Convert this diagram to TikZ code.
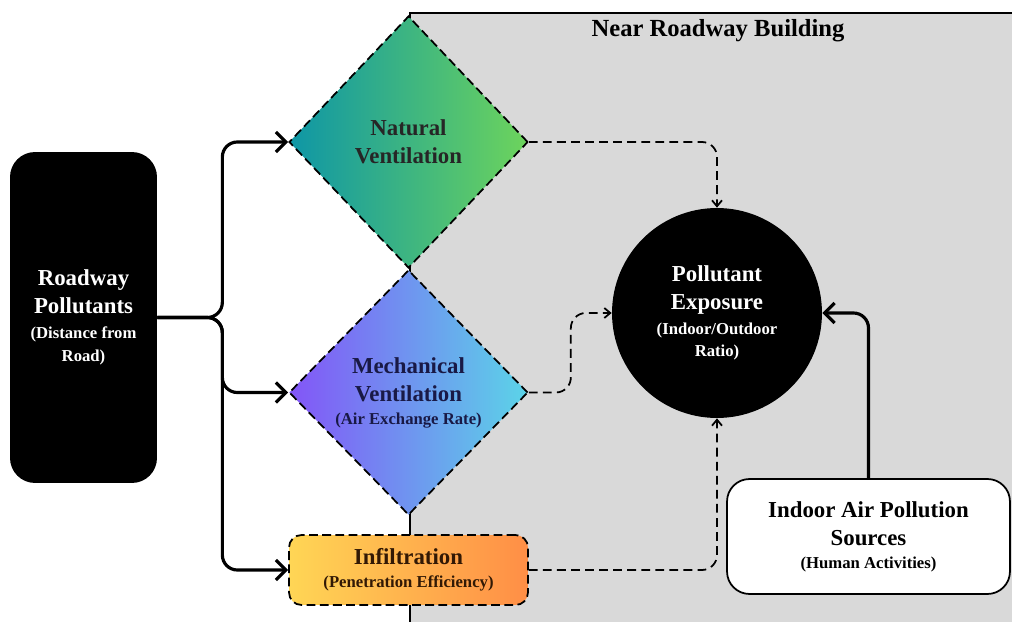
\documentclass[tikz,border=0pt]{standalone}
\usepackage{fontspec}
\setmainfont{Liberation Serif}
\usetikzlibrary{arrows.meta,positioning,shapes.geometric}

\definecolor{bldggray}{HTML}{D9D9D9}
\definecolor{natL}{HTML}{0E96A6}
\definecolor{natR}{HTML}{6DD45C}
\definecolor{mechL}{HTML}{8355F7}
\definecolor{mechR}{HTML}{5BD4E8}
\definecolor{infL}{HTML}{FFD655}
\definecolor{infR}{HTML}{FF8E46}

% smaller second lines inside the boxes
\newcommand{\subline}[1]{{\fontsize{9.5}{12}\selectfont #1}}

\begin{document}
\begin{tikzpicture}[x=0.02cm,y=-0.02cm,
      txt/.style={font=\fontsize{13}{16}\selectfont\bfseries,align=center},
      gate/.style={txt,diamond,draw,line width=1pt,
                   dash pattern=on 5pt off 2.5pt,inner sep=0pt,
                   minimum width=4.78cm},
      feed/.style={-{Straight Barb[length=2mm,width=4mm]},line width=1.8pt,
                   rounded corners=0.3cm},
      leak/.style={-{Straight Barb[length=1.2mm,width=2mm]},line width=1pt,
                   dash pattern=on 5pt off 3pt,rounded corners=0.3cm}]
    \useasboundingbox (0,0) rectangle (1012,622);

    % building outline
    \fill[bldggray] (410,13) rectangle (1012,622);
    \draw[line width=0.8pt] (410,622) -- (410,13) -- (1012,13);
    \node[font=\fontsize{14}{17}\selectfont\bfseries] (title) at (718,31)
      {Near Roadway Building};

    \node[txt,fill=black,text=white,rounded corners=0.5cm,inner sep=0pt,
          minimum width=2.94cm,minimum height=6.62cm] (road) at (83.5,317.5)
      {Roadway\\Pollutants\\[-2pt]\subline{(Distance from}\\[-3pt]\subline{Road)}};

    \node[gate,left color=natL,right color=natR,text=black!85,
          minimum height=5.04cm] (nat) at (408.5,142)
      {Natural\\Ventilation};
    \node[gate,left color=mechL,right color=mechR,text={rgb,255:red,25;green,25;blue,70},
          minimum height=4.9cm] (mech) at (408.5,392.5)
      {Mechanical\\Ventilation\\[-3pt]\subline{(Air Exchange Rate)}};
    \node[txt,draw,line width=1pt,dash pattern=on 5pt off 2.5pt,
          rounded corners=0.25cm,inner sep=0pt,left color=infL,right color=infR,
          text={rgb,255:red,50;green,25;blue,5},
          minimum width=4.78cm,minimum height=1.4cm] (infil) at (408.5,570)
      {Infiltration\\[-3pt]\subline{(Penetration Efficiency)}};

    \node[txt,circle,fill=black,text=white,minimum size=4.2cm,inner sep=0pt]
      (expo) at (717,313)
      {Pollutant\\Exposure\\[-2pt]\subline{(Indoor/Outdoor}\\[-3pt]\subline{Ratio)}};
    \node[txt,draw,fill=white,line width=1pt,rounded corners=0.45cm,
          inner sep=0pt,minimum width=5.66cm,minimum height=2.3cm]
      (src) at (868.5,536.5)
      {Indoor Air Pollution\\Sources\\[-3pt]\subline{(Human Activities)}};

    \draw[feed] (road.east) -- ++(65,0) |- (nat.west);
    \draw[feed] (road.east) -- ++(65,0) |- (mech.west);
    \draw[feed] (road.east) -- ++(65,0) |- (infil.west);

    \draw[leak] (nat.east) -| (expo.north);
    \draw[leak] (mech.east) -- ++(42,0) |- (expo.west);
    \draw[leak] (infil.east) -| (expo.south);
    \draw[feed] (src.north) |- (expo.east);
\end{tikzpicture}
\end{document}
